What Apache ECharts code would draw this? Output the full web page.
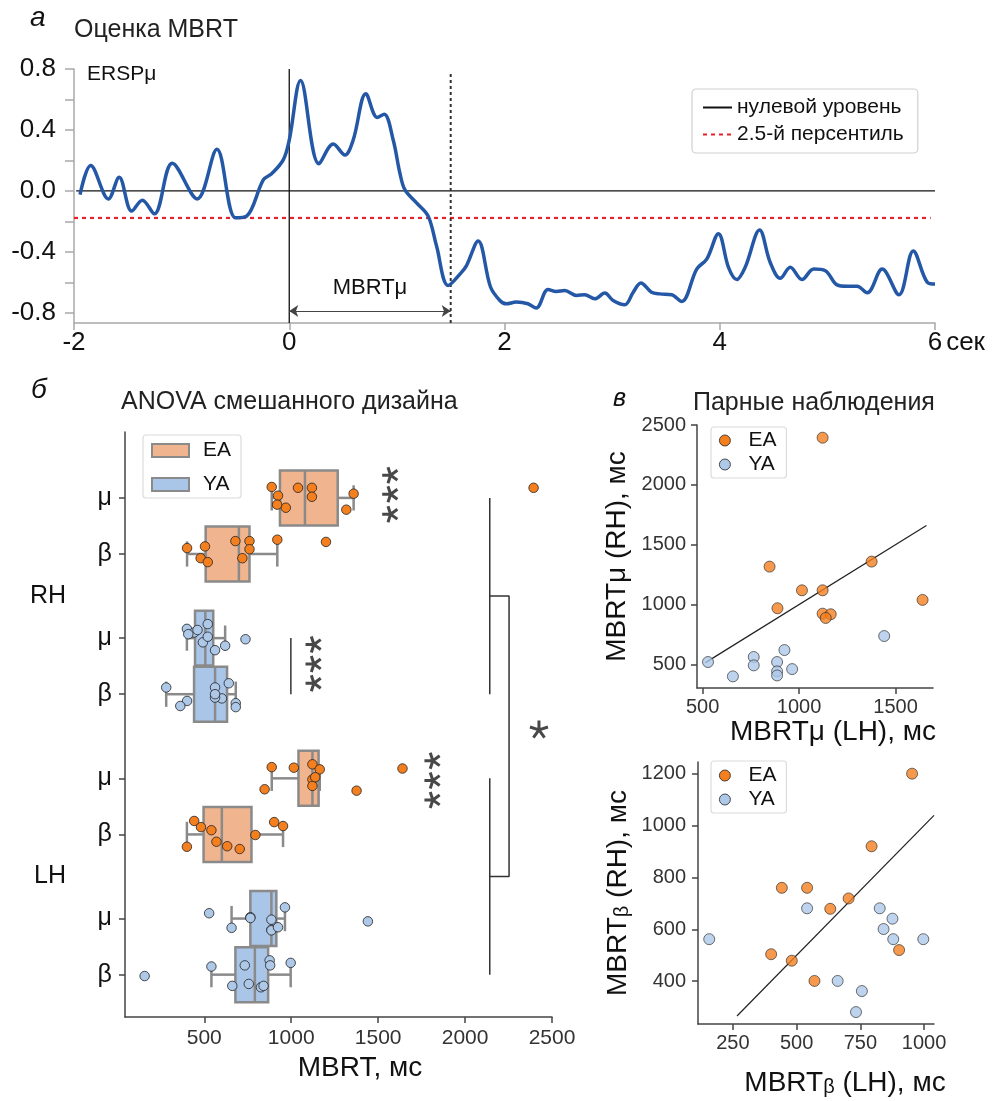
<!DOCTYPE html>
<html><head><meta charset="utf-8">
<script src="https://cdn.jsdelivr.net/npm/echarts@6/dist/echarts.min.js"></script>
<style>html,body{margin:0;padding:0;background:#fff}#c{width:998px;height:1101px}</style>
</head><body><div id="c"></div>
<script>
// ---------- Panel а: ERSPμ time course ----------
const timeSec = [-1.944,-1.845,-1.68,-1.58,-1.464,-1.365,-1.254,-1.087,-0.855,-0.672,-0.5,-0.396,-0.24,-0.164,-0.056,0,0.105,0.276,0.409,0.517,0.594,0.712,0.817,0.882,0.966,1.028,1.074,1.183,1.291,1.368,1.477,1.6,1.647,1.755,1.87,1.957,2.016,2.109,2.217,2.295,2.404,2.481,2.559,2.668,2.745,2.839,2.932,3.009,3.118,3.196,3.267,3.366,3.444,3.553,3.646,3.786,3.879,3.988,4.081,4.158,4.236,4.37,4.469,4.562,4.655,4.764,4.873,4.981,5.09,5.183,5.276,5.37,5.509,5.665,5.798,5.929,6.0];
const erspMu = [-0.024,0.167,-0.052,0.09,-0.132,-0.061,-0.15,0.182,-0.052,0.273,-0.176,-0.165,0.074,0.113,0.204,0.334,0.725,0.178,0.308,0.236,0.334,0.638,0.482,0.503,0.334,0.117,0.009,-0.078,-0.165,-0.36,-0.62,-0.534,-0.49,-0.328,-0.63,-0.718,-0.74,-0.729,-0.74,-0.768,-0.646,-0.659,-0.653,-0.685,-0.681,-0.707,-0.67,-0.718,-0.746,-0.664,-0.603,-0.664,-0.675,-0.681,-0.725,-0.512,-0.447,-0.28,-0.501,-0.581,-0.501,-0.256,-0.469,-0.573,-0.501,-0.581,-0.512,-0.523,-0.616,-0.625,-0.625,-0.668,-0.512,-0.681,-0.393,-0.599,-0.61];
const zeroLevel = 0;
const percentile25 = -0.177;
const mbrtMuSec = 1.5;
const yTicksA = [-0.8,-0.6,-0.4,-0.2,0,0.2,0.4,0.6,0.8];
const yLabelsA = [-0.8,-0.4,0,0.4,0.8];
const xTicksA = [-2,0,2,4,6];

// ---------- Panels б / в: MBRT per subject (ms), paired LH/RH ----------
const EA_mu_LH   = [1122, 847,1376,1015,1122, 888,1640,1122,1164,1138];
const EA_mu_RH   = [2394,1317,1359,1119,1119, 969,1039, 924, 919, 888];
const YA_mu_LH   = [ 528, 657, 765, 765, 886, 886, 886, 924, 964,1441];
const YA_mu_RH   = [ 520, 400, 562, 492, 520, 442, 408, 620, 461, 737];
const EA_beta_LH = [ 953, 794, 442, 541, 704, 632, 400, 481, 570, 902];
const EA_beta_RH = [1200, 920, 760, 760, 719, 679, 504, 479, 401, 520];
const YA_beta_LH = [ 157, 541, 826, 876, 841, 879, 997, 661, 756, 733];
const YA_beta_RH = [ 562, 681, 681, 641, 601, 562, 562, 401, 362, 281];

// strip-plot vertical jitter (row units)
const jit_EA_mu_LH   = [-0.50,0.39,0.44,-0.38,0.04,-0.40,-0.35,0.27,-0.32,-0.04];
const jit_EA_mu_RH   = [-0.36,0.42,-0.15,-0.36,-0.04,0.35,-0.36,-0.08,0.24,-0.39];
const jit_YA_mu_LH   = [-0.19,0.33,-0.05,-0.02,0.04,0.40,0.42,0.31,-0.40,0.10];
const jit_YA_mu_RH   = [-0.50,-0.33,0.43,0.15,-0.05,-0.20,-0.14,0.27,-0.29,0.04];
const jit_EA_beta_LH = [-0.30,0.02,-0.48,-0.15,0.52,0.42,0.44,-0.26,0.26,-0.44];
const jit_EA_beta_RH = [-0.43,-0.51,-0.46,-0.17,0.15,-0.46,-0.27,0.15,-0.21,0.29];
const jit_YA_beta_LH = [0.05,-0.29,0.45,-0.51,0.40,-0.33,-0.42,0.40,0.33,-0.33];
const jit_YA_beta_RH = [-0.24,0.32,0.46,-0.39,0.15,0.12,0.00,0.24,0.42,-0.24];

const rowLabels = ['μ','β','μ','β','μ','β','μ','β'];
const handLabels = ['RH','LH'];
const boxTicksX = [500,1000,1500,2000,2500];
const muTicksX = [500,1000,1500];
const muTicksY = [500,1000,1500,2000,2500];
const betaTicksX = [250,500,750,1000];
const betaTicksY = [400,600,800,1000,1200];

// significance annotations (value, row)
const sigTriple = [[1567,-0.81],[1567,-0.13],[1567,0.58],[1126,5.23],[1126,5.92],[1126,6.61],[1810,9.37],[1810,10.08],[1810,10.77]];
const sigSingle = [[2425,8.24]];
const bracketYA = [[998,5],[998,7]];
const bracketRH = [[2142,0],[2142,7]];
const bracketLH = [[2142,10],[2142,17]];
const bracketJoin = [[2142,3.5],[2253,3.5],[2253,13.5],[2142,13.5]];
const identityMu = [[515,515],[1660,1660]];
const identityBeta = [[266,266],[1039,1039]];

// ---------- layout / style ----------
const FONT = "'Liberation Sans', Arial, Helvetica, sans-serif";
const ORANGE = '#F47F1F', LBLUE = '#AEC8E8';
const EA_BOX = '#F0B48F', YA_BOX = '#A9C6E9', BOX_EDGE = '#8a8a8a';
const rowPos = [0,2,5,7,10,12,15,17];
const handPos = [3.5,13.5];
const plain = v => String(v);

const groups = [
  {pos:0,  g:'EA', vals:EA_mu_RH,   jit:jit_EA_mu_RH},
  {pos:2,  g:'EA', vals:EA_beta_RH, jit:jit_EA_beta_RH},
  {pos:5,  g:'YA', vals:YA_mu_RH,   jit:jit_YA_mu_RH},
  {pos:7,  g:'YA', vals:YA_beta_RH, jit:jit_YA_beta_RH},
  {pos:10, g:'EA', vals:EA_mu_LH,   jit:jit_EA_mu_LH},
  {pos:12, g:'EA', vals:EA_beta_LH, jit:jit_EA_beta_LH},
  {pos:15, g:'YA', vals:YA_mu_LH,   jit:jit_YA_mu_LH},
  {pos:17, g:'YA', vals:YA_beta_LH, jit:jit_YA_beta_LH}
];

function quantile(a, p){ const H=(a.length-1)*p, h=Math.floor(H), e=H-h; return e ? a[h]+e*(a[h+1]-a[h]) : a[h]; }
function boxStats(vals){
  const a=[...vals].sort((x,y)=>x-y);
  const q1=quantile(a,0.25), med=quantile(a,0.5), q3=quantile(a,0.75), iqr=q3-q1;
  const lo=a.find(v=>v>=q1-1.5*iqr);
  const hi=[...a].reverse().find(v=>v<=q3+1.5*iqr);
  return [q1,med,q3,lo,hi];
}
function renderBox(params, api){
  const pos=api.value(0), q1=api.value(1), med=api.value(2), q3=api.value(3), lo=api.value(4), hi=api.value(5);
  const c=(x,y)=>api.coord([x,y]);
  const st={stroke:BOX_EDGE, lineWidth:2.5};
  const ln=(x1,y1,x2,y2)=>{const p=c(x1,y1), q=c(x2,y2); return {type:'line', shape:{x1:p[0],y1:p[1],x2:q[0],y2:q[1]}, style:st};};
  const a=c(q1,pos-0.98), b=c(q3,pos+0.98);
  return {type:'group', children:[
    ln(lo,pos,q1,pos), ln(q3,pos,hi,pos),
    ln(lo,pos-0.45,lo,pos+0.45), ln(hi,pos-0.45,hi,pos+0.45),
    {type:'rect', shape:{x:Math.min(a[0],b[0]), y:Math.min(a[1],b[1]), width:Math.abs(b[0]-a[0]), height:Math.abs(b[1]-a[1])},
     style:{fill:api.visual('color'), stroke:BOX_EDGE, lineWidth:2.5}},
    ln(med,pos-0.98,med,pos+0.98)
  ]};
}
function boxSeries(name,color){
  return {type:'custom', name, xAxisIndex:1, yAxisIndex:1, itemStyle:{color}, z:2,
    data: groups.filter(g=>g.g===name).map(g=>[g.pos, ...boxStats(g.vals)]),
    encode:{x:[1,2,3,4,5], y:0}, renderItem: renderBox};
}
function stripSeries(name,color){
  return {type:'scatter', name, xAxisIndex:1, yAxisIndex:1, symbolSize:9.5, z:3,
    itemStyle:{color, borderColor:'#222', borderWidth:0.8, opacity:1},
    data: groups.filter(g=>g.g===name).flatMap(g=>g.vals.map((v,i)=>[v, g.pos+g.jit[i]]))};
}
// five-armed asterisk glyph
const ASTER = 'path://M0,0L0,-10M0,0L9.51,-3.09M0,0L-9.51,-3.09M0,0L5.88,8.09M0,0L-5.88,8.09';
const lineS = (data, xi, yi, color, width, type) => ({type:'line', data, xAxisIndex:xi, yAxisIndex:yi, symbol:'none', silent:true,
  lineStyle:{color, width, type:type||'solid'}, z:1});

const axisTxt = (size, color) => ({fontSize:size, color, fontFamily:FONT});
const darkAxis = {onZero:false, lineStyle:{color:'#444', width:1.5}};
const darkTick = (vals) => ({customValues:vals, length:6, lineStyle:{color:'#444', width:1.5}});
const hideSym = {color:'transparent', borderColor:'transparent', borderWidth:0};

const option = {
  animation:false,
  textStyle:{fontFamily:FONT},
  title:[
    {text:'а', left:30, top:4, padding:0, textStyle:{fontSize:28, fontStyle:'italic', fontWeight:'normal', color:'#111', fontFamily:FONT}},
    {text:'Оценка MBRT', left:74, top:18, padding:0, textStyle:{fontSize:25, fontWeight:'normal', color:'#222', fontFamily:FONT}},
    {text:'ERSPμ', left:87, top:64, padding:0, textStyle:{fontSize:21, fontWeight:'normal', color:'#111', fontFamily:FONT}},
    {text:'б', left:31, top:376, padding:0, textStyle:{fontSize:28, fontStyle:'italic', fontWeight:'normal', color:'#111', fontFamily:FONT}},
    {text:'ANOVA смешанного дизайна', left:121, top:390, padding:0, textStyle:{fontSize:25, fontWeight:'normal', color:'#222', fontFamily:FONT}},
    {text:'в', left:613, top:387, padding:0, textStyle:{fontSize:25, fontStyle:'italic', fontWeight:'normal', color:'#111', fontFamily:FONT}},
    {text:'Парные наблюдения', left:693, top:391, padding:0, textStyle:{fontSize:25, fontWeight:'normal', color:'#222', fontFamily:FONT}}
  ],
  legend:[
    {left:692, top:89, orient:'vertical', selectedMode:false,
     data:[{name:'нулевой уровень', itemStyle:hideSym}, {name:'2.5-й персентиль', itemStyle:hideSym}],
     itemWidth:29, itemHeight:14, itemGap:6, padding:[8,14,8,10], borderColor:'#d0d0d0', borderWidth:1.2, borderRadius:4,
     textStyle:{fontSize:21, color:'#111', fontFamily:FONT}},
    {left:143, top:435, orient:'vertical', selectedMode:false,
     data:[{name:'EA', icon:'rect', itemStyle:{color:EA_BOX, borderColor:BOX_EDGE, borderWidth:2}},
           {name:'YA', icon:'rect', itemStyle:{color:YA_BOX, borderColor:BOX_EDGE, borderWidth:2}}],
     itemWidth:37, itemHeight:13, itemGap:13, padding:[5,10,3,8], borderColor:'#dcdcdc', borderWidth:1.2, borderRadius:3,
     textStyle:{fontSize:21, color:'#111', fontFamily:FONT, padding:[0,0,0,9]}},
    {left:711, top:427, orient:'vertical', selectedMode:false,
     data:[{name:'EA', icon:'circle', itemStyle:{color:ORANGE, borderColor:'#222', borderWidth:0.8}},
           {name:'YA', icon:'circle', itemStyle:{color:LBLUE, borderColor:'#222', borderWidth:0.8}}],
     itemWidth:11, itemHeight:11, itemGap:3, padding:[3,10,3,8], borderColor:'#dcdcdc', borderWidth:1.2, borderRadius:3,
     textStyle:{fontSize:21, color:'#111', fontFamily:FONT, padding:[0,0,0,13]}},
    {left:711, top:761, orient:'vertical', selectedMode:false,
     data:[{name:'EA', icon:'circle', itemStyle:{color:ORANGE, borderColor:'#222', borderWidth:0.8}},
           {name:'YA', icon:'circle', itemStyle:{color:LBLUE, borderColor:'#222', borderWidth:0.8}}],
     itemWidth:11, itemHeight:11, itemGap:3, padding:[4,10,3,8], borderColor:'#dcdcdc', borderWidth:1.2, borderRadius:3,
     textStyle:{fontSize:21, color:'#111', fontFamily:FONT, padding:[0,0,0,13]}}
  ],
  grid:[
    {left:74, top:69, width:861, height:254},
    {left:125, top:432, width:427, height:585},
    {left:697, top:425, width:236, height:263},
    {left:698, top:762, width:236, height:262}
  ],
  xAxis:[
    {gridIndex:0, type:'value', min:-2, max:6, interval:2, splitLine:{show:false},
     axisLine:{onZero:false, lineStyle:{color:'#a8a8a8', width:1.5}}, axisTick:{length:7, lineStyle:{color:'#a8a8a8', width:1.5}},
     axisLabel:{...axisTxt(26,'#111'), margin:7, customValues:xTicksA, formatter:plain},
     name:'сек', nameLocation:'end', nameGap:10, nameTextStyle:{fontSize:26, color:'#111', fontFamily:FONT, verticalAlign:'top', padding:[7,0,0,0]}},
    {gridIndex:1, type:'value', min:44, max:2500, splitLine:{show:false}, axisLine:darkAxis, axisTick:darkTick(boxTicksX),
     axisLabel:{...axisTxt(21,'#333'), margin:11, customValues:boxTicksX, formatter:plain},
     name:'MBRT, мс', nameLocation:'middle', nameGap:32, nameTextStyle:{fontSize:28, color:'#111', fontFamily:FONT, padding:[0,0,0,43]}},
    {gridIndex:2, type:'value', min:471, max:1694, splitLine:{show:false}, axisLine:darkAxis, axisTick:darkTick(muTicksX),
     axisLabel:{...axisTxt(20,'#333'), margin:9, customValues:muTicksX, formatter:plain},
     name:'MBRTμ (LH), мс', nameLocation:'middle', nameGap:30, nameTextStyle:{fontSize:28, color:'#111', fontFamily:FONT, padding:[0,0,0,36]}},
    {gridIndex:3, type:'value', min:113, max:1039, splitLine:{show:false}, axisLine:darkAxis, axisTick:darkTick(betaTicksX),
     axisLabel:{...axisTxt(20,'#333'), margin:9, customValues:betaTicksX, formatter:plain},
     name:'MBRT{b|β} (LH), мс', nameLocation:'middle', nameGap:45,
     nameTextStyle:{fontSize:28, color:'#111', fontFamily:FONT, padding:[0,0,0,58], rich:{b:{fontSize:20, color:'#111', fontFamily:FONT, padding:[8,0,0,0]}}}}
  ],
  yAxis:[
    {gridIndex:0, type:'value', min:-0.866, max:0.8, splitLine:{show:false},
     axisLine:{show:true, onZero:false, lineStyle:{color:'#a8a8a8', width:1.5}}, axisTick:{show:true, customValues:yTicksA, length:9, lineStyle:{color:'#a8a8a8', width:1.5}},
     axisLabel:{...axisTxt(26,'#111'), margin:18, customValues:yLabelsA, formatter:v=>Number(v).toFixed(1)}},
    {gridIndex:1, type:'value', inverse:true, min:-2.35, max:18.51, position:'left', splitLine:{show:false},
     axisLine:{show:true, ...darkAxis}, axisTick:{show:true, ...darkTick(rowPos)},
     axisLabel:{...axisTxt(25,'#111'), margin:13, customValues:rowPos, formatter:v=>rowLabels[rowPos.indexOf(Number(v))]}},
    {gridIndex:1, type:'value', inverse:true, min:-2.35, max:18.51, position:'left', offset:0, splitLine:{show:false},
     axisLine:{show:false, onZero:false}, axisTick:{show:false},
     axisLabel:{...axisTxt(25,'#111'), margin:59, customValues:handPos, formatter:v=>handLabels[handPos.indexOf(Number(v))]}},
    {gridIndex:2, type:'value', min:303, max:2500, splitLine:{show:false}, axisLine:{show:true, ...darkAxis}, axisTick:{show:true, ...darkTick(muTicksY)},
     axisLabel:{...axisTxt(20,'#333'), margin:11, customValues:muTicksY, formatter:plain},
     name:'MBRTμ (RH), мс', nameLocation:'middle', nameRotate:90, nameGap:66, nameTextStyle:{fontSize:28, color:'#111', fontFamily:FONT}},
    {gridIndex:3, type:'value', min:235, max:1245, splitLine:{show:false}, axisLine:{show:true, ...darkAxis}, axisTick:{show:true, ...darkTick(betaTicksY)},
     axisLabel:{...axisTxt(20,'#333'), margin:12, customValues:betaTicksY, formatter:plain},
     name:'MBRT{b|β} (RH), мс', nameLocation:'middle', nameRotate:90, nameGap:66,
     nameTextStyle:{fontSize:28, color:'#111', fontFamily:FONT, rich:{b:{fontSize:20, color:'#111', fontFamily:FONT, padding:[8,0,0,0]}}}}
  ],
  series:[
    // panel а
    {type:'line', name:'нулевой уровень', data:[[-1.98,zeroLevel],[6,zeroLevel]], xAxisIndex:0, yAxisIndex:0, symbol:'none', showSymbol:false, silent:true,
     lineStyle:{color:'#111', width:1.3}, z:1},
    {type:'line', name:'2.5-й персентиль', data:[[-2,percentile25],[5.96,percentile25]], xAxisIndex:0, yAxisIndex:0, symbol:'none', showSymbol:false, silent:true,
     lineStyle:{color:'#E8202A', width:2.2, type:[4,4]}, z:1},
    lineS([[0,-0.866],[0,0.8]], 0, 0, '#111', 1.3),
    {type:'line', data:[[mbrtMuSec,-0.866],[mbrtMuSec,0.785]], xAxisIndex:0, yAxisIndex:0, symbol:'none', silent:true,
     lineStyle:{color:'#333', width:2, type:[3,3]}, z:1,
     markLine:{silent:true, symbol:['arrow','arrow'], symbolSize:9, animation:false,
       lineStyle:{color:'#444', width:1.2, type:'solid'},
       label:{show:true, position:'middle', formatter:'MBRTμ', fontSize:22, color:'#111', fontFamily:FONT, distance:12},
       data:[[{coord:[0,-0.787]},{coord:[mbrtMuSec,-0.787]}]]}},
    {type:'line', name:'ERSPμ', data:timeSec.map((t,i)=>[t, erspMu[i]]), xAxisIndex:0, yAxisIndex:0, symbol:'none', smooth:0.35,
     lineStyle:{color:'#2458A6', width:3.5}, z:5},
    // panel б
    boxSeries('EA', EA_BOX), boxSeries('YA', YA_BOX),
    stripSeries('EA', ORANGE), stripSeries('YA', LBLUE),
    lineS(bracketYA, 1, 1, '#333', 1.5), lineS(bracketRH, 1, 1, '#333', 1.5), lineS(bracketLH, 1, 1, '#333', 1.5), lineS(bracketJoin, 1, 1, '#333', 1.5),
    {type:'scatter', data:sigTriple, xAxisIndex:1, yAxisIndex:1, symbol:ASTER, symbolSize:16, symbolKeepAspect:true, symbolRotate:90, silent:true, z:4,
     itemStyle:{color:'none', borderColor:'#1a1a1a', borderWidth:3}},
    {type:'scatter', data:sigSingle, xAxisIndex:1, yAxisIndex:1, symbol:ASTER, symbolSize:18, symbolKeepAspect:true, silent:true, z:4,
     itemStyle:{color:'none', borderColor:'#1a1a1a', borderWidth:3}},
    // panel в top
    lineS(identityMu, 2, 3, '#222', 1.2),
    {type:'scatter', name:'EA', xAxisIndex:2, yAxisIndex:3, symbolSize:11, z:3, itemStyle:{color:ORANGE, borderColor:'#222', borderWidth:0.8},
     data:EA_mu_LH.map((x,i)=>[x, EA_mu_RH[i]])},
    {type:'scatter', name:'YA', xAxisIndex:2, yAxisIndex:3, symbolSize:11, z:3, itemStyle:{color:LBLUE, borderColor:'#222', borderWidth:0.8},
     data:YA_mu_LH.map((x,i)=>[x, YA_mu_RH[i]])},
    // panel в bottom
    lineS(identityBeta, 3, 4, '#222', 1.2),
    {type:'scatter', name:'EA', xAxisIndex:3, yAxisIndex:4, symbolSize:11, z:3, itemStyle:{color:ORANGE, borderColor:'#222', borderWidth:0.8},
     data:EA_beta_LH.map((x,i)=>[x, EA_beta_RH[i]])},
    {type:'scatter', name:'YA', xAxisIndex:3, yAxisIndex:4, symbolSize:11, z:3, itemStyle:{color:LBLUE, borderColor:'#222', borderWidth:0.8},
     data:YA_beta_LH.map((x,i)=>[x, YA_beta_RH[i]])}
  ]
};
const chart = echarts.init(document.getElementById('c'), null, {renderer:'canvas'});
chart.setOption(option);
</script></body></html>
